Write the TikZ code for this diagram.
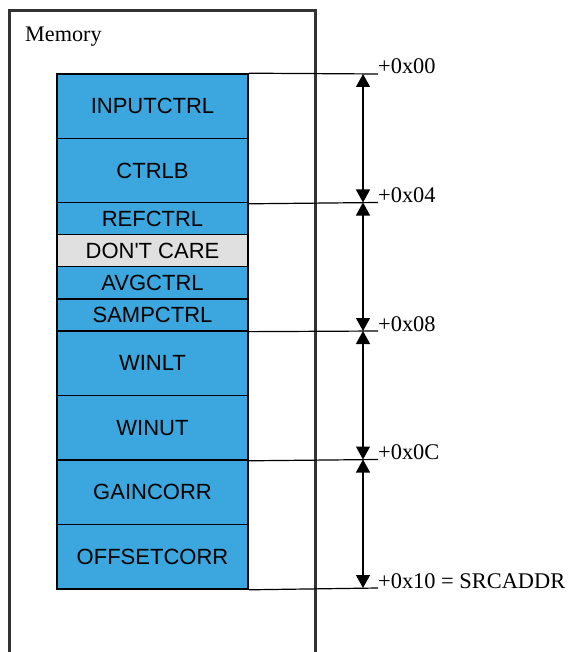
\documentclass[tikz,border=0pt]{standalone}
\usepackage{fontspec}
\setmainfont{Liberation Serif}
\setsansfont{Liberation Sans}
\usetikzlibrary{arrows.meta}
\definecolor{regblue}{RGB}{59,167,222}
\definecolor{dcgray}{RGB}{224,224,224}
\definecolor{framegray}{RGB}{51,51,51}
\tikzset{
  reg/.style={draw=black, line width=1.6pt, fill=regblue, minimum width=191pt, inner sep=0pt, font=\sffamily\fontsize{22}{25}\selectfont},
  dc/.style={reg, fill=dcgray},
  offs/.style={anchor=base west, inner sep=0pt, font=\rmfamily\fontsize{22.4}{25}\selectfont},
  refline/.style={line width=1.2pt, black},
  span/.style={line width=1.2pt, black, {Triangle[width=14pt,length=13pt]}-{Triangle[width=14pt,length=13pt]}}
}
\begin{document}
\begin{tikzpicture}[x=1pt,y=-1pt]
\useasboundingbox (0,0) rectangle (568,652);
% memory frame
\draw[framegray, line width=3pt] (9.5,653) -- (9.5,10.5) -- (315,10.5) -- (315,653);
\node[anchor=base west, inner sep=0pt, font=\rmfamily\fontsize{22.2}{25}\selectfont] (mem) at (25,42) {Memory};
% registers
\node[reg, minimum height=64.5pt] (inp) at (152.5,106.25) {INPUTCTRL};
\node[reg, minimum height=64.5pt] (ctrlb) at (152.5,170.75) {CTRLB};
\node[reg, minimum height=32.1pt] (ref) at (152.5,218.5) {REFCTRL};
\node[dc, minimum height=32.1pt] (dcare) at (152.5,250.6) {DON\textquotesingle T CARE};
\node[reg, minimum height=32.1pt] (avg) at (152.5,282.7) {AVGCTRL};
\node[reg, minimum height=32.1pt] (samp) at (152.5,314.8) {SAMPCTRL};
\node[reg, minimum height=64.5pt] (winlt) at (152.5,363.25) {WINLT};
\node[reg, minimum height=64.5pt] (winut) at (152.5,427.75) {WINUT};
\node[reg, minimum height=64.5pt] (gain) at (152.5,492.25) {GAINCORR};
\node[reg, minimum height=64.5pt] (offs) at (152.5,556.75) {OFFSETCORR};
% reference coordinates
\coordinate (r0) at (378,74);
\coordinate (r1) at (378,202.5);
\coordinate (r2) at (378,331);
\coordinate (r3) at (378,459.5);
\coordinate (r4) at (378,588);
\coordinate (a0) at (363,74);
\coordinate (a1) at (363,202.5);
\coordinate (a2) at (363,331);
\coordinate (a3) at (363,459.5);
\coordinate (a4) at (363,588);
% reference lines
\draw[refline] (inp.north east) -- (r0);
\draw[refline] (ctrlb.south east) -- (r1);
\draw[refline] (samp.south east) -- (r2);
\draw[refline] (winut.south east) -- (r3);
\draw[refline] (offs.south east) -- (r4);
% spans
\draw[span] (a0) -- (a1);
\draw[span] (a1) -- (a2);
\draw[span] (a2) -- (a3);
\draw[span] (a3) -- (a4);
% offset labels
\node[offs] (l0) at (r0) {+0x00};
\node[offs] (l1) at (r1) {+0x04};
\node[offs] (l2) at (r2) {+0x08};
\node[offs] (l3) at (r3) {+0x0C};
\node[offs] (l4) at (r4) {+0x10 = SRCADDR};
\end{tikzpicture}
\end{document}
